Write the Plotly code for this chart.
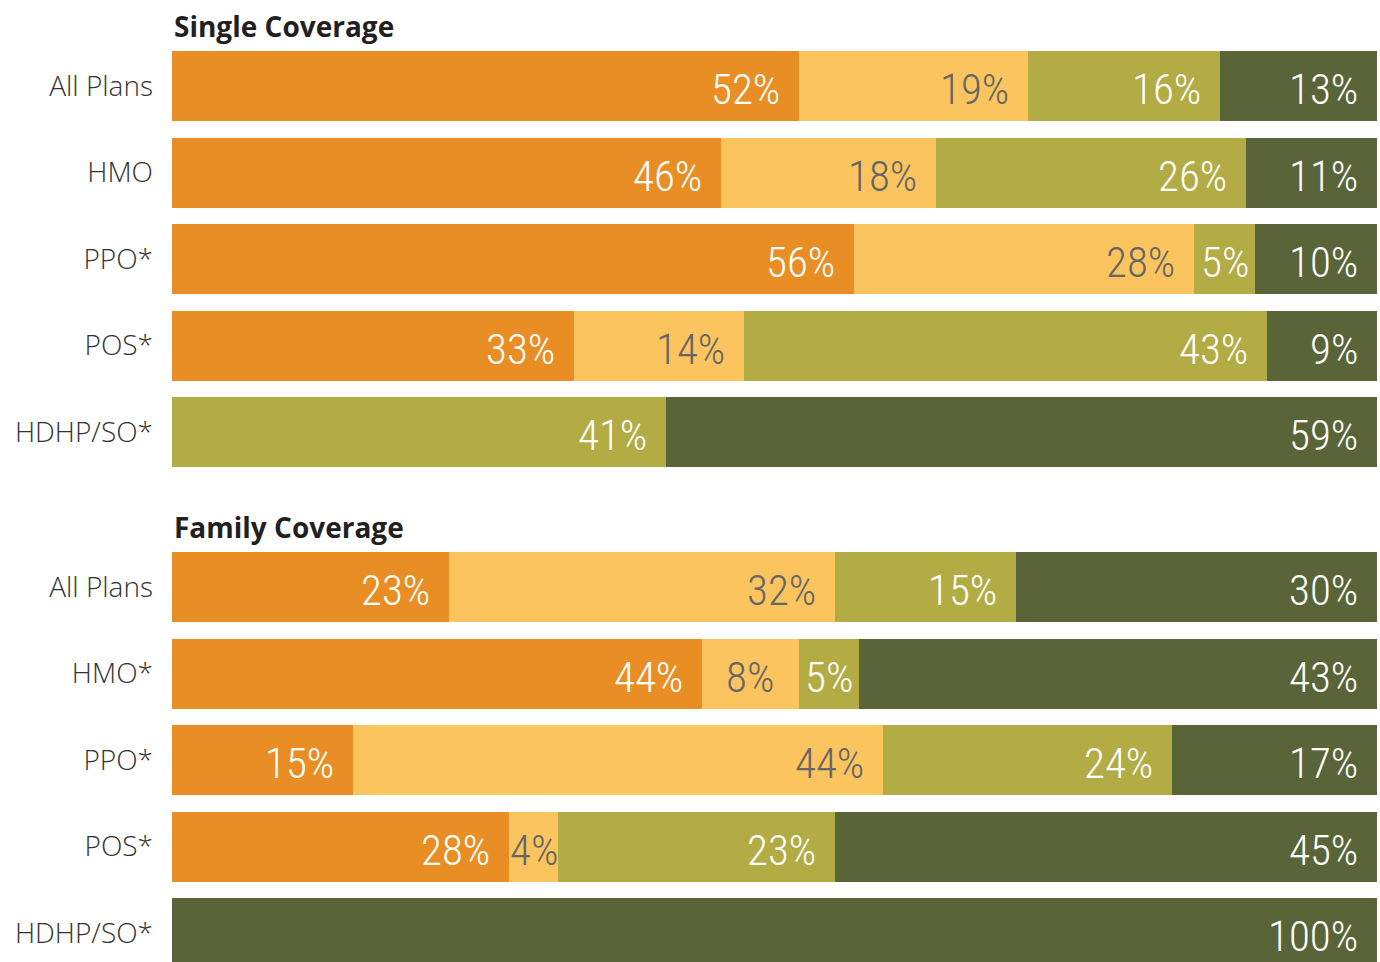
import plotly.graph_objects as go

# Plan types (rows) for each coverage panel
single_plans = ["All Plans", "HMO", "PPO*", "POS*", "HDHP/SO*"]
family_plans = ["All Plans", "HMO*", "PPO*", "POS*", "HDHP/SO*"]

# Share of covered workers in each of the four bands (percent)
single_band1 = [52, 46, 56, 33, 0]
single_band2 = [19, 18, 28, 14, 0]
single_band3 = [16, 26, 5, 43, 41]
single_band4 = [13, 11, 10, 9, 59]

family_band1 = [23, 44, 15, 28, 0]
family_band2 = [32, 8, 44, 4, 0]
family_band3 = [15, 5, 24, 23, 0]
family_band4 = [30, 43, 17, 45, 100]

band_colors = ["#E98E24", "#FCC45E", "#B3AC45", "#596438"]
label_colors = ["#FFFFFF", "#666666", "#FFFFFF", "#FFFFFF"]

W, H = 1380, 962
X0, X1 = 172, 1377
PITCH = 86.5

LABEL_FONT = "Roboto Condensed, Liberation Sans Narrow, sans-serif"
TEXT_FONT = "Open Sans, Lato, Noto Sans, sans-serif"

fig = go.Figure()
annotations = []


def add_panel(plans, bands, xaxis, yaxis):
    yref = yaxis.replace("axis", "")
    xref = xaxis.replace("axis", "")
    for i, vals in enumerate(bands):
        fig.add_trace(go.Bar(
            x=vals, y=plans, orientation="h",
            marker=dict(color=band_colors[i], line=dict(width=0)),
            xaxis=xref, yaxis=yref, hoverinfo="skip", showlegend=False,
        ))
    # value labels placed at the end of each (row-normalised) segment
    for r, plan in enumerate(plans):
        row = [b[r] for b in bands]
        total = sum(row)
        cum = 0.0
        for i, v in enumerate(row):
            if v == 0:
                continue
            start = cum / total * 100
            cum += v
            end = cum / total * 100
            if v <= 8:
                x, anchor, shift = (start + end) / 2, "center", 0
            else:
                x, anchor, shift = end, "right", -17
            annotations.append(dict(
                x=x, y=plan, xref=xref, yref=yref, text=f"{v}%",
                showarrow=False, xanchor=anchor, yanchor="middle",
                xshift=shift, yshift=-3,
                font=dict(family=LABEL_FONT, size=43, weight=300, color=label_colors[i]),
            ))


add_panel(single_plans, [single_band1, single_band2, single_band3, single_band4], "xaxis", "yaxis")
add_panel(family_plans, [family_band1, family_band2, family_band3, family_band4], "xaxis2", "yaxis2")

# panel headings
for text, ypx in [("Single Coverage", 26), ("Family Coverage", 527)]:
    annotations.append(dict(
        x=172 / W, y=1 - ypx / H, xref="paper", yref="paper", text=f"<b>{text}</b>",
        showarrow=False, xanchor="left", yanchor="middle",
        font=dict(family=TEXT_FONT, size=28, color="#231F20"),
    ))

xdom = [X0 / W, X1 / W]
top1 = 51 - (PITCH - 70) / 2
bot1 = top1 + 5 * PITCH
top2 = 552 - (PITCH - 70) / 2
visible2 = (H - top2) / PITCH

axis_common = dict(showgrid=False, zeroline=False, showline=False)
ytick_font = dict(family=TEXT_FONT, size=28, weight=300, color="#333333")

fig.update_layout(
    width=W, height=H,
    margin=dict(l=0, r=0, t=0, b=0),
    paper_bgcolor="white", plot_bgcolor="white",
    barmode="stack", barnorm="percent", bargap=(PITCH - 70) / PITCH,
    xaxis=dict(domain=xdom, range=[0, 100], showticklabels=False, anchor="y", **axis_common),
    xaxis2=dict(domain=xdom, range=[0, 100], showticklabels=False, anchor="y2", **axis_common),
    yaxis=dict(domain=[1 - bot1 / H, 1 - top1 / H], type="category",
               categoryorder="array", categoryarray=single_plans,
               range=[4.5, -0.5], tickfont=ytick_font, ticks="",
               ticklabelstandoff=18, anchor="x", **axis_common),
    yaxis2=dict(domain=[0, 1 - top2 / H], type="category",
                categoryorder="array", categoryarray=family_plans,
                range=[visible2 - 0.5, -0.5], tickfont=ytick_font, ticks="",
                ticklabelstandoff=18, anchor="x2", **axis_common),
    annotations=annotations,
)

fig.write_html("out.html")
